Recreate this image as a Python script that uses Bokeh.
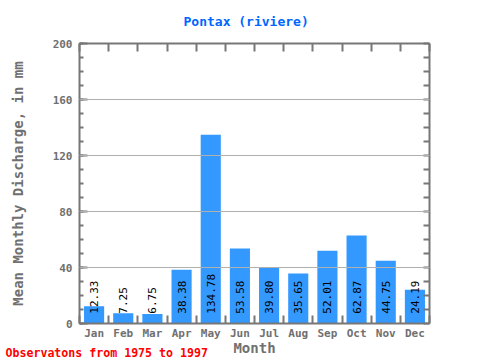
import numpy as np
from bokeh.plotting import figure
from bokeh.models import Range1d, FixedTicker, LinearAxis, Title, ColumnDataSource
from bokeh.core.properties import value
from bokeh.embed import file_html
from bokeh.resources import INLINE

months = ["Jan", "Feb", "Mar", "Apr", "May", "Jun", "Jul", "Aug", "Sep", "Oct", "Nov", "Dec"]
discharge = [12.33, 7.25, 6.75, 38.38, 134.78, 53.58, 39.80, 35.65, 52.01, 62.87, 44.75, 24.19]
y_ticks = [0, 40, 80, 120, 160, 200]
title_text = "Pontax (riviere)"
y_label = "Mean Monthly Discharge, in mm"
x_label = "Month"
footer_text = "Observatons from 1975 to 1997"

FONT = "DejaVu Sans Mono"
GRAY = "#777777"
LBL = "#707070"

n = len(months)
pos = np.arange(1, n + 1)
src = ColumnDataSource(dict(x=pos, top=discharge,
                            label=["%.2f" % v for v in discharge],
                            ly=[7.0] * n))

p = figure(width=480, height=360, output_backend="svg", toolbar_location=None,
           x_range=Range1d(0.5, n + 0.5), y_range=Range1d(0, 200),
           min_border_left=79, min_border_right=51, min_border_top=43, min_border_bottom=37)
p.outline_line_color = None
p.background_fill_color = "white"

p.vbar(x="x", top="top", width=0.69, source=src, fill_color="#3399ff", line_color=None)
p.text(x="x", y="ly", text="label", source=src, angle=np.pi / 2, text_align="left",
       text_baseline="middle", text_font=value(FONT), text_font_size="11px", text_color="black")

bounds = list(np.arange(0.5, n + 1, 1.0))
y_ticker = FixedTicker(ticks=y_ticks, minor_ticks=list(range(0, 201, 10)))

# bottom axis
xa = p.xaxis[0]
xa.ticker = FixedTicker(ticks=list(pos), minor_ticks=bounds)
xa.major_label_overrides = {int(i): m for i, m in zip(pos, months)}
xa.major_tick_line_color = None
xa.major_tick_in = 0
xa.major_tick_out = 0
xa.minor_tick_in = 8
xa.minor_tick_out = 0
xa.minor_tick_line_color = GRAY
xa.minor_tick_line_width = 2
xa.axis_line_color = GRAY
xa.axis_line_width = 2
xa.major_label_standoff = 3
xa.major_label_text_font = FONT
xa.major_label_text_font_size = "11px"
xa.major_label_text_font_style = "bold"
xa.major_label_text_color = LBL
xa.axis_label = x_label
xa.axis_label_standoff = -3
xa.axis_label_text_font = FONT
xa.axis_label_text_font_size = "14px"
xa.axis_label_text_font_style = "bold"
xa.axis_label_text_color = LBL

# left axis
ya = p.yaxis[0]
ya.ticker = y_ticker
ya.major_tick_in = 8
ya.major_tick_out = 0
ya.minor_tick_in = 4
ya.minor_tick_out = 0
ya.major_tick_line_color = GRAY
ya.minor_tick_line_color = GRAY
ya.major_tick_line_width = 2
ya.minor_tick_line_width = 2
ya.axis_line_color = GRAY
ya.axis_line_width = 2
ya.major_label_standoff = 7
ya.major_label_text_font = FONT
ya.major_label_text_font_size = "11px"
ya.major_label_text_font_style = "bold"
ya.major_label_text_color = LBL
ya.axis_label = y_label
ya.axis_label_standoff = 24
ya.axis_label_text_font = FONT
ya.axis_label_text_font_size = "14px"
ya.axis_label_text_font_style = "bold"
ya.axis_label_text_color = LBL

# top axis (boundary ticks only)
ta = LinearAxis(ticker=FixedTicker(ticks=[], minor_ticks=bounds),
                major_tick_in=0, major_tick_out=0, major_label_standoff=0,
                minor_tick_in=8, minor_tick_out=0,
                minor_tick_line_color=GRAY, minor_tick_line_width=2,
                axis_line_color=GRAY, axis_line_width=2)
p.add_layout(ta, "above")

# right axis
ra = LinearAxis(ticker=FixedTicker(ticks=[], minor_ticks=list(range(0, 201, 10))),
                major_tick_in=0, major_tick_out=0, major_label_standoff=0,
                minor_tick_in=6, minor_tick_out=0,
                minor_tick_line_color=GRAY, minor_tick_line_width=2,
                axis_line_color=GRAY, axis_line_width=2)
p.add_layout(ra, "right")

p.xgrid.visible = False
p.ygrid.ticker = FixedTicker(ticks=y_ticks[1:-1])
p.ygrid.grid_line_color = "#b0b0b0"
p.ygrid.grid_line_width = 1
p.ygrid.level = "overlay"

p.add_layout(Title(text=title_text, align="left", offset=104, standoff=26,
                   vertical_align="top", text_font=FONT, text_font_size="13px",
                   text_font_style="bold", text_color="#0066ff"), "above")
p.add_layout(Title(text=footer_text, align="left", offset=-74, standoff=-25,
                   vertical_align="top", text_font=FONT, text_font_size="11.6px",
                   text_font_style="bold", text_color="#ff0000"), "below")

open("out.html", "w").write(file_html(p, INLINE))
